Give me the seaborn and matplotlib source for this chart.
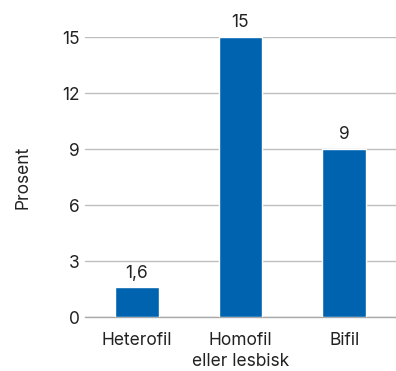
import matplotlib
matplotlib.use("Agg")
import matplotlib.pyplot as plt
import seaborn as sns
import pandas as pd

categories = ["Heterofil", "Homofil\neller lesbisk", "Bifil"]
values = [1.6, 15, 9]
value_labels = ["1,6", "15", "9"]
yticks = [0, 3, 6, 9, 12, 15]

sns.set_theme(style="white")
plt.rcParams['font.family'] = ['Inter', 'DejaVu Sans']

df = pd.DataFrame({"kategori": categories, "prosent": values})

fig = plt.figure(figsize=(3.96, 3.71), dpi=100)
ax = fig.add_axes([85/396, 1-317/371, 1-85/396, (317-37)/371])

sns.barplot(data=df, x="kategori", y="prosent", color="#0063AF", saturation=1,
            width=0.42, ax=ax, zorder=3)

ax.set_ylim(0, 15)
ax.set_yticks(yticks)
ax.set_yticklabels([str(t) for t in yticks])
ax.yaxis.grid(True, color="#BEBEBE", linewidth=1.0, zorder=0)
ax.set_axisbelow(True)
for s in ["top", "right", "left"]:
    ax.spines[s].set_visible(False)
ax.spines["bottom"].set_color("#AAAAAA")
ax.spines["bottom"].set_linewidth(1.0)
ax.tick_params(axis="both", length=0, labelsize=12.5, colors="#222222")
ax.tick_params(axis="y", pad=4)
ax.tick_params(axis="x", pad=11)
for lbl in ax.get_xticklabels():
    lbl.set_linespacing(1.3)
ax.set_xlabel("")
ax.set_ylabel("Prosent", fontsize=12.5, color="#222222", labelpad=22)

for patch, txt in zip(ax.patches, value_labels):
    ax.annotate(txt, (patch.get_x() + patch.get_width()/2, patch.get_height()),
                xytext=(0, 4), textcoords="offset points", ha="center", va="bottom",
                fontsize=12.5, color="#222222", annotation_clip=False)

fig.savefig("out.png", dpi=100)
